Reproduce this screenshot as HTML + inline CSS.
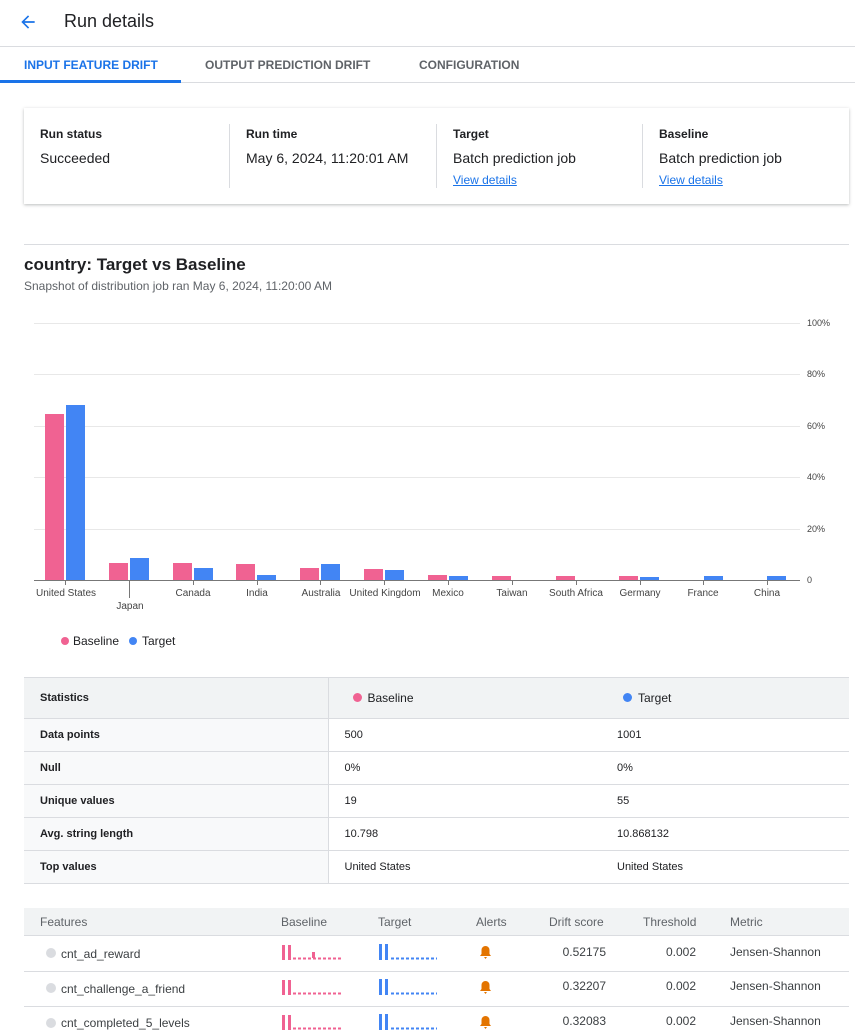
<!DOCTYPE html>
<html><head><meta charset="utf-8"><style>
*{margin:0;padding:0;box-sizing:border-box}
body{width:855px;height:1033px;overflow:hidden;background:#fff;font-family:"Liberation Sans",Arial,sans-serif;color:#202124;position:relative}
.a{position:absolute;white-space:nowrap}
.t{font-size:12px;font-weight:bold}
.v{font-size:14px}
.lnk{font-size:12px;color:#1a73e8;text-decoration:underline}
.tab{font-size:12px;font-weight:bold;color:#5f6368;top:58px}
table{border-collapse:collapse;position:absolute}
td{font-size:11px;padding:0 16px;border-bottom:1px solid #dadce0}
</style></head><body>
<svg class="a" style="left:18px;top:12px" width="20" height="20" viewBox="0 0 24 24"><path d="M20 11H7.8l5.6-5.6L12 4l-8 8 8 8 1.4-1.4L7.8 13H20z" fill="#1a73e8"/></svg>
<div class="a" style="left:64px;top:11px;font-size:18px">Run details</div>
<div class="a" style="left:0;top:46px;width:855px;height:1px;background:#dadce0"></div>
<div class="a tab" style="left:24px;color:#1a73e8">INPUT FEATURE DRIFT</div>
<div class="a tab" style="left:205px">OUTPUT PREDICTION DRIFT</div>
<div class="a tab" style="left:419px">CONFIGURATION</div>
<div class="a" style="left:0;top:82px;width:855px;height:1px;background:#dadce0"></div>
<div class="a" style="left:0;top:80px;width:181px;height:3px;background:#1a73e8"></div>

<div class="a" style="left:24px;top:108px;width:825px;height:96px;box-shadow:0 1px 3px rgba(60,64,67,.35);background:#fff"></div>
<div class="a" style="left:229px;top:124px;width:1px;height:64px;background:#dadce0"></div>
<div class="a" style="left:436px;top:124px;width:1px;height:64px;background:#dadce0"></div>
<div class="a" style="left:642px;top:124px;width:1px;height:64px;background:#dadce0"></div>
<div class="a t" style="left:40px;top:127px">Run status</div>
<div class="a v" style="left:40px;top:150px">Succeeded</div>
<div class="a t" style="left:246px;top:127px">Run time</div>
<div class="a v" style="left:246px;top:150px">May 6, 2024, 11:20:01 AM</div>
<div class="a t" style="left:453px;top:127px">Target</div>
<div class="a v" style="left:453px;top:150px">Batch prediction job</div>
<div class="a lnk" style="left:453px;top:173px">View details</div>
<div class="a t" style="left:659px;top:127px">Baseline</div>
<div class="a v" style="left:659px;top:150px">Batch prediction job</div>
<div class="a lnk" style="left:659px;top:173px">View details</div>

<div class="a" style="left:24px;top:244px;width:825px;height:1px;background:#dadce0"></div>
<div class="a" style="left:24px;top:255px;font-size:17px;font-weight:bold">country: Target vs Baseline</div>
<div class="a" style="left:24px;top:279px;font-size:12px;color:#5f6368">Snapshot of distribution job ran May 6, 2024, 11:20:00 AM</div>

<svg class="a" style="left:0;top:0" width="855" height="660" font-family="Liberation Sans,Arial,sans-serif" font-size="10" fill="#444">
<g stroke="#e8e8e8" stroke-width="1">
<line x1="34" x2="800" y1="323.5" y2="323.5"/><line x1="34" x2="800" y1="374.5" y2="374.5"/><line x1="34" x2="800" y1="426.5" y2="426.5"/><line x1="34" x2="800" y1="477.5" y2="477.5"/><line x1="34" x2="800" y1="529.5" y2="529.5"/></g>
<line x1="34" x2="800" y1="580.5" y2="580.5" stroke="#777"/>
<g font-size="9"><text x="807" y="326">100%</text><text x="807" y="377">80%</text><text x="807" y="429">60%</text><text x="807" y="480">40%</text><text x="807" y="532">20%</text><text x="807" y="583">0</text></g>
<g fill="#f06292">
<rect x="45" y="414" width="19" height="166"/><rect x="109" y="563" width="19" height="17"/><rect x="173" y="563" width="19" height="17"/><rect x="236" y="564" width="19" height="16"/><rect x="300" y="568" width="19" height="12"/><rect x="364" y="569" width="19" height="11"/><rect x="428" y="575" width="19" height="5"/><rect x="492" y="576" width="19" height="4"/><rect x="556" y="576" width="19" height="4"/><rect x="619" y="576" width="19" height="4"/></g>
<g fill="#4285f4">
<rect x="66" y="405" width="19" height="175"/><rect x="130" y="558" width="19" height="22"/><rect x="194" y="568" width="19" height="12"/><rect x="257" y="575" width="19" height="5"/><rect x="321" y="564" width="19" height="16"/><rect x="385" y="570" width="19" height="10"/><rect x="449" y="576" width="19" height="4"/><rect x="640" y="577" width="19" height="3"/><rect x="704" y="576" width="19" height="4"/><rect x="767" y="576" width="19" height="4"/></g>
<g stroke="#777"><line x1="65.5" x2="65.5" y1="580" y2="585"/><line x1="129.5" x2="129.5" y1="580" y2="598"/><line x1="193.5" x2="193.5" y1="580" y2="585"/><line x1="257.5" x2="257.5" y1="580" y2="585"/><line x1="320.5" x2="320.5" y1="580" y2="585"/><line x1="384.5" x2="384.5" y1="580" y2="585"/><line x1="448.5" x2="448.5" y1="580" y2="585"/><line x1="512.5" x2="512.5" y1="580" y2="585"/><line x1="576.5" x2="576.5" y1="580" y2="585"/><line x1="640.5" x2="640.5" y1="580" y2="585"/><line x1="703.5" x2="703.5" y1="580" y2="585"/><line x1="767.5" x2="767.5" y1="580" y2="585"/></g>
<g text-anchor="middle">
<text x="66" y="596">United States</text><text x="130" y="609">Japan</text><text x="193" y="596">Canada</text><text x="257" y="596">India</text><text x="321" y="596">Australia</text><text x="385" y="596">United Kingdom</text><text x="448" y="596">Mexico</text><text x="512" y="596">Taiwan</text><text x="576" y="596">South Africa</text><text x="640" y="596">Germany</text><text x="703" y="596">France</text><text x="767" y="596">China</text></g>
<circle cx="65" cy="641" r="4" fill="#f06292"/><text x="73" y="645" font-size="12" fill="#202124">Baseline</text>
<circle cx="133" cy="641" r="4" fill="#4285f4"/><text x="142" y="645" font-size="12" fill="#202124">Target</text>
</svg>

<table style="left:24px;top:678px;width:825px">
<tr style="height:40px;background:#f1f3f4"><td style="width:304px;font-weight:bold;border-right:1px solid #dadce0">Statistics</td><td style="width:273px;font-size:12px"><span style="display:inline-block;width:9px;height:9px;border-radius:50%;background:#f06292;margin:0 6px 0 8px"></span>Baseline</td><td style="font-size:12px"><span style="display:inline-block;width:9px;height:9px;border-radius:50%;background:#4285f4;margin:0 6px 0 6px"></span>Target</td></tr>
<tr style="height:33px"><td style="font-weight:bold;background:#f8f9fa;border-right:1px solid #dadce0">Data points</td><td>500</td><td>1001</td></tr>
<tr style="height:33px"><td style="font-weight:bold;background:#f8f9fa;border-right:1px solid #dadce0">Null</td><td>0%</td><td>0%</td></tr>
<tr style="height:33px"><td style="font-weight:bold;background:#f8f9fa;border-right:1px solid #dadce0">Unique values</td><td>19</td><td>55</td></tr>
<tr style="height:33px"><td style="font-weight:bold;background:#f8f9fa;border-right:1px solid #dadce0">Avg. string length</td><td>10.798</td><td>10.868132</td></tr>
<tr style="height:33px"><td style="font-weight:bold;background:#f8f9fa;border-right:1px solid #dadce0">Top values</td><td>United States</td><td>United States</td></tr>
</table>
<div class="a" style="left:24px;top:677px;width:825px;height:1px;background:#dadce0"></div>

<div class="a" style="left:24px;top:908px;width:825px;height:28px;background:#f1f3f4;border-bottom:1px solid #dadce0"></div>
<div class="a" style="left:40px;top:915px;font-size:12px;color:#5f6368">Features</div>
<div class="a" style="left:281px;top:915px;font-size:12px;color:#5f6368">Baseline</div>
<div class="a" style="left:378px;top:915px;font-size:12px;color:#5f6368">Target</div>
<div class="a" style="left:476px;top:915px;font-size:12px;color:#5f6368">Alerts</div>
<div class="a" style="left:549px;top:915px;font-size:12px;color:#5f6368">Drift score</div>
<div class="a" style="left:643px;top:915px;font-size:12px;color:#5f6368">Threshold</div>
<div class="a" style="left:730px;top:915px;font-size:12px;color:#5f6368">Metric</div>

<svg class="a" style="left:0;top:936px" width="855" height="97" font-family="Liberation Sans,Arial,sans-serif" font-size="12" fill="#3c4043">
<g id="r">
<line x1="24" x2="849" y1="35.5" y2="35.5" stroke="#dadce0"/>
<circle cx="51" cy="17" r="5" fill="#dadce0"/>
<rect x="282" y="9" width="3" height="15" fill="#f06292"/><rect x="288" y="9" width="3" height="15" fill="#f06292"/>
<line x1="293" x2="341" y1="22.5" y2="22.5" stroke="#f06292" stroke-width="2" stroke-dasharray="3,2"/>
<rect x="379" y="8" width="3" height="16" fill="#4285f4"/><rect x="385" y="8" width="3" height="16" fill="#4285f4"/>
<line x1="391" x2="437" y1="22.5" y2="22.5" stroke="#4285f4" stroke-width="2" stroke-dasharray="3,2"/>
<path d="M480 20h11l-1.5-2v-4a4 4 0 0 0-8 0v4z M484 21h3l-1.5 2z" fill="#e37400"/>
</g>
<rect x="312" y="16" width="3" height="6" fill="#f06292"/>
<text x="606" y="20" text-anchor="end">0.52175</text><text x="696" y="20" text-anchor="end">0.002</text><text x="730" y="20">Jensen-Shannon</text>
<text x="61" y="22">cnt_ad_reward</text>
<use href="#r" y="35"/>
<text x="61" y="57">cnt_challenge_a_friend</text>
<text x="606" y="54" text-anchor="end">0.32207</text><text x="696" y="54" text-anchor="end">0.002</text><text x="730" y="54">Jensen-Shannon</text>
<use href="#r" y="70"/>
<text x="61" y="91">cnt_completed_5_levels</text>
<text x="606" y="89" text-anchor="end">0.32083</text><text x="696" y="89" text-anchor="end">0.002</text><text x="730" y="89">Jensen-Shannon</text>
</svg>
</body></html>
